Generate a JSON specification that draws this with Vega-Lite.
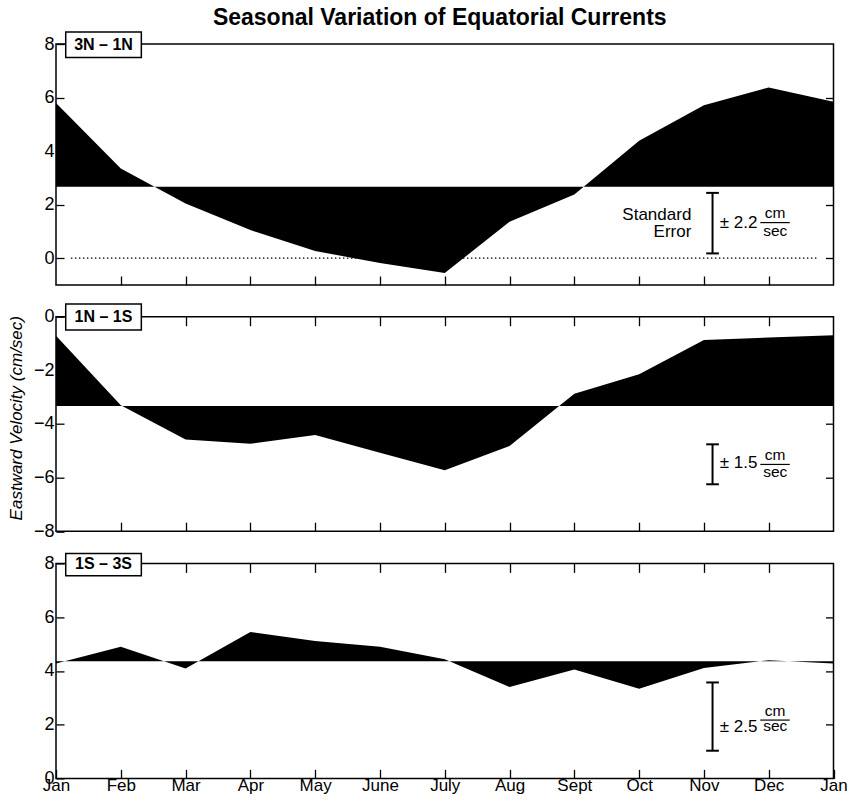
{
  "$schema": "https://vega.github.io/schema/vega-lite/v6.json",
  "background": "white",
  "padding": {"left": 6, "top": 7, "right": 4, "bottom": 4},
  "title": {"text": "Seasonal Variation of Equatorial Currents", "fontSize": 23, "fontWeight": "bold", "font": "Liberation Sans", "color": "black", "anchor": "middle", "frame": "group", "offset": 0, "dx": -5},
  "config": {
    "font": "Liberation Sans",
    "view": {"stroke": "black", "strokeWidth": 1.5},
    "axis": {"domain": false, "grid": false, "tickColor": "black", "tickWidth": 1.3, "labelFontSize": 18, "labelColor": "black", "labelFont": "Liberation Sans", "labelFlush": false, "labelOverlap": false, "labelBound": false, "titleColor": "black"},
    "text": {"font": "Liberation Sans", "color": "black"}
  },
  "datasets": {
    "p1": [
      {"m": 0, "v": 5.8}, {"m": 1, "v": 3.35}, {"m": 2, "v": 2.04}, {"m": 3, "v": 1.05}, {"m": 4, "v": 0.27}, {"m": 5, "v": -0.18}, {"m": 6, "v": -0.55}, {"m": 7, "v": 1.36}, {"m": 8, "v": 2.38}, {"m": 9, "v": 4.39}, {"m": 10, "v": 5.71}, {"m": 11, "v": 6.38}, {"m": 12, "v": 5.84}
    ],
    "p2": [
      {"m": 0, "v": -0.71}, {"m": 1, "v": -3.3}, {"m": 2, "v": -4.58}, {"m": 3, "v": -4.74}, {"m": 4, "v": -4.41}, {"m": 5, "v": -5.07}, {"m": 6, "v": -5.73}, {"m": 7, "v": -4.82}, {"m": 8, "v": -2.87}, {"m": 9, "v": -2.15}, {"m": 10, "v": -0.87}, {"m": 11, "v": -0.78}, {"m": 12, "v": -0.69}
    ],
    "p3": [
      {"m": 0, "v": 4.28}, {"m": 1, "v": 4.9}, {"m": 2, "v": 4.09}, {"m": 3, "v": 5.45}, {"m": 4, "v": 5.11}, {"m": 5, "v": 4.9}, {"m": 6, "v": 4.43}, {"m": 7, "v": 3.4}, {"m": 8, "v": 4.05}, {"m": 9, "v": 3.34}, {"m": 10, "v": 4.11}, {"m": 11, "v": 4.4}, {"m": 12, "v": 4.28}
    ],
    "one": [{"k": 1}]
  },
  "spacing": 31.7,
  "bounds": "flush",
  "vconcat": [
    {
      "width": 777.5, "height": 241,
      "data": {"name": "one"},
      "resolve": {"axis": {"x": "independent", "y": "independent"}},
      "layer": [
        {"data": {"name": "p1"}, "mark": {"type": "area", "color": "black", "interpolate": "linear"},
          "encoding": {
            "x": {"field": "m", "type": "quantitative", "scale": {"domain": [0, 12], "nice": false, "zero": false}, "axis": {"orient": "bottom", "values": [1,2,3,4,5,6,7,8,9,10,11], "labels": false, "tickSize": -9, "title": null}},
            "y": {"field": "v", "type": "quantitative", "scale": {"domain": [-1, 8], "nice": false, "zero": false}, "axis": {"orient": "left", "values": [0,2,4,6,8], "tickSize": -8, "labelPadding": 10, "title": null}},
            "y2": {"datum": 2.67}
          }},
        {"mark": {"type": "rule", "color": "black", "strokeWidth": 1.2, "strokeDash": [1.5, 2.5]},
          "encoding": {"x": {"datum": 0.23, "type": "quantitative", "axis": null}, "x2": {"datum": 11.74}, "y": {"datum": 0, "type": "quantitative", "axis": null}}},
        {"mark": {"type": "rule", "color": "black", "strokeWidth": 2},
          "encoding": {"x": {"datum": 10.133, "type": "quantitative", "axis": null}, "y": {"datum": 2.44, "type": "quantitative", "axis": {"orient": "right", "values": [0,2,4,6], "labels": false, "tickSize": -8, "title": null}}, "y2": {"datum": 0.18}}},
        {"mark": {"type": "rule", "color": "black", "strokeWidth": 2},
          "encoding": {"x": {"datum": 10.035, "type": "quantitative", "axis": null}, "x2": {"datum": 10.231}, "y": {"datum": 2.44, "type": "quantitative", "axis": null}}},
        {"mark": {"type": "rule", "color": "black", "strokeWidth": 2},
          "encoding": {"x": {"datum": 10.035, "type": "quantitative", "axis": null}, "x2": {"datum": 10.231}, "y": {"datum": 0.18, "type": "quantitative", "axis": null}}},
        {"mark": {"type": "text", "text": "Standard", "align": "right", "baseline": "alphabetic", "fontSize": 17},
          "encoding": {"x": {"datum": 9.806, "type": "quantitative", "axis": null}, "y": {"datum": 1.445, "type": "quantitative", "axis": null}}},
        {"mark": {"type": "text", "text": "Error", "align": "right", "baseline": "alphabetic", "fontSize": 17},
          "encoding": {"x": {"datum": 9.806, "type": "quantitative", "axis": null}, "y": {"datum": 0.795, "type": "quantitative", "axis": null}}},
        {"mark": {"type": "text", "text": "± 2.2", "align": "left", "baseline": "alphabetic", "fontSize": 17},
          "encoding": {"x": {"datum": 10.244, "type": "quantitative", "axis": null}, "y": {"datum": 1.11, "type": "quantitative", "axis": null}}},
        {"mark": {"type": "text", "text": "cm", "align": "center", "baseline": "alphabetic", "fontSize": 15.5},
          "encoding": {"x": {"datum": 11.1, "type": "quantitative", "axis": null}, "y": {"datum": 1.52, "type": "quantitative", "axis": null}}},
        {"mark": {"type": "rule", "color": "black", "strokeWidth": 1.2},
          "encoding": {"x": {"datum": 10.87, "type": "quantitative", "axis": null}, "x2": {"datum": 11.325}, "y": {"datum": 1.33, "type": "quantitative", "axis": null}}},
        {"mark": {"type": "text", "text": "sec", "align": "center", "baseline": "alphabetic", "fontSize": 15.5},
          "encoding": {"x": {"datum": 11.1, "type": "quantitative", "axis": null}, "y": {"datum": 0.84, "type": "quantitative", "axis": null}}},
        {"mark": {"type": "rect", "fill": "white", "stroke": "black", "strokeWidth": 1.5},
          "encoding": {"x": {"datum": 0.15, "type": "quantitative", "axis": null}, "x2": {"datum": 1.317}, "y": {"datum": 8.45, "type": "quantitative", "axis": null}, "y2": {"datum": 7.5}}},
        {"mark": {"type": "text", "text": "3N – 1N", "align": "center", "baseline": "middle", "fontSize": 16, "fontWeight": "bold"},
          "encoding": {"x": {"datum": 0.733, "type": "quantitative", "axis": null}, "y": {"datum": 7.97, "type": "quantitative", "axis": null}}}
      ]
    },
    {
      "width": 777.5, "height": 214.5,
      "data": {"name": "one"},
      "resolve": {"axis": {"x": "independent", "y": "independent"}},
      "layer": [
        {"data": {"name": "p2"}, "mark": {"type": "area", "color": "black", "interpolate": "linear"},
          "encoding": {
            "x": {"field": "m", "type": "quantitative", "scale": {"domain": [0, 12], "nice": false, "zero": false}, "axis": {"orient": "bottom", "values": [1,2,3,4,5,6,7,8,9,10,11], "labels": false, "tickSize": -9, "title": null}},
            "y": {"field": "v", "type": "quantitative", "scale": {"domain": [-8, 0], "nice": false, "zero": false}, "axis": {"orient": "left", "values": [0,-2,-4,-6,-8], "tickSize": -8, "labelPadding": 10, "title": "Eastward Velocity (cm/sec)", "titleFontStyle": "italic", "titleFontWeight": "normal", "titleFontSize": 17, "titlePadding": 8, "titleY": 101}},
            "y2": {"datum": -3.33}
          }},
        {"mark": {"type": "rule", "color": "black", "strokeWidth": 2},
          "encoding": {"x": {"datum": 10.133, "type": "quantitative", "axis": {"orient": "top", "values": [1,2,3,4,5,6,7,8,9,10,11], "labels": false, "tickSize": -9, "title": null}}, "y": {"datum": -4.76, "type": "quantitative", "axis": {"orient": "right", "values": [-2,-4,-6], "labels": false, "tickSize": -8, "title": null}}, "y2": {"datum": -6.25}}},
        {"mark": {"type": "rule", "color": "black", "strokeWidth": 2},
          "encoding": {"x": {"datum": 10.035, "type": "quantitative", "axis": null}, "x2": {"datum": 10.231}, "y": {"datum": -4.76, "type": "quantitative", "axis": null}}},
        {"mark": {"type": "rule", "color": "black", "strokeWidth": 2},
          "encoding": {"x": {"datum": 10.035, "type": "quantitative", "axis": null}, "x2": {"datum": 10.231}, "y": {"datum": -6.25, "type": "quantitative", "axis": null}}},
        {"mark": {"type": "text", "text": "± 1.5", "align": "left", "baseline": "alphabetic", "fontSize": 17},
          "encoding": {"x": {"datum": 10.244, "type": "quantitative", "axis": null}, "y": {"datum": -5.66, "type": "quantitative", "axis": null}}},
        {"mark": {"type": "text", "text": "cm", "align": "center", "baseline": "alphabetic", "fontSize": 15.5},
          "encoding": {"x": {"datum": 11.1, "type": "quantitative", "axis": null}, "y": {"datum": -5.34, "type": "quantitative", "axis": null}}},
        {"mark": {"type": "rule", "color": "black", "strokeWidth": 1.2},
          "encoding": {"x": {"datum": 10.87, "type": "quantitative", "axis": null}, "x2": {"datum": 11.325}, "y": {"datum": -5.51, "type": "quantitative", "axis": null}}},
        {"mark": {"type": "text", "text": "sec", "align": "center", "baseline": "alphabetic", "fontSize": 15.5},
          "encoding": {"x": {"datum": 11.1, "type": "quantitative", "axis": null}, "y": {"datum": -5.96, "type": "quantitative", "axis": null}}},
        {"mark": {"type": "rect", "fill": "white", "stroke": "black", "strokeWidth": 1.5},
          "encoding": {"x": {"datum": 0.15, "type": "quantitative", "axis": null}, "x2": {"datum": 1.317}, "y": {"datum": 0.475, "type": "quantitative", "axis": null}, "y2": {"datum": -0.497}}},
        {"mark": {"type": "text", "text": "1N – 1S", "align": "center", "baseline": "middle", "fontSize": 16, "fontWeight": "bold"},
          "encoding": {"x": {"datum": 0.733, "type": "quantitative", "axis": null}, "y": {"datum": -0.01, "type": "quantitative", "axis": null}}}
      ]
    },
    {
      "width": 777.5, "height": 215,
      "data": {"name": "one"},
      "resolve": {"axis": {"x": "independent", "y": "independent"}},
      "layer": [
        {"data": {"name": "p3"}, "mark": {"type": "area", "color": "black", "interpolate": "linear"},
          "encoding": {
            "x": {"field": "m", "type": "quantitative", "scale": {"domain": [0, 12], "nice": false, "zero": false}, "axis": {"orient": "bottom", "values": [0,1,2,3,4,5,6,7,8,9,10,11,12], "labelExpr": "['Jan','Feb','Mar','Apr','May','June','July','Aug','Sept','Oct','Nov','Dec','Jan'][datum.value]", "labelFontSize": 17, "labelPadding": 8, "tickSize": -9, "title": null}},
            "y": {"field": "v", "type": "quantitative", "scale": {"domain": [0, 8], "nice": false, "zero": false}, "axis": {"orient": "left", "values": [0,2,4,6,8], "tickSize": -8, "labelPadding": 10, "title": null}},
            "y2": {"datum": 4.36}
          }},
        {"mark": {"type": "rule", "color": "black", "strokeWidth": 2},
          "encoding": {"x": {"datum": 10.133, "type": "quantitative", "axis": {"orient": "top", "values": [1,2,3,4,5,6,7,8,9,10,11], "labels": false, "tickSize": -9, "title": null}}, "y": {"datum": 3.57, "type": "quantitative", "axis": {"orient": "right", "values": [2,4,6], "labels": false, "tickSize": -8, "title": null}}, "y2": {"datum": 1.03}}},
        {"mark": {"type": "rule", "color": "black", "strokeWidth": 2},
          "encoding": {"x": {"datum": 10.035, "type": "quantitative", "axis": null}, "x2": {"datum": 10.231}, "y": {"datum": 3.57, "type": "quantitative", "axis": null}}},
        {"mark": {"type": "rule", "color": "black", "strokeWidth": 2},
          "encoding": {"x": {"datum": 10.035, "type": "quantitative", "axis": null}, "x2": {"datum": 10.231}, "y": {"datum": 1.03, "type": "quantitative", "axis": null}}},
        {"mark": {"type": "text", "text": "± 2.5", "align": "left", "baseline": "alphabetic", "fontSize": 17},
          "encoding": {"x": {"datum": 10.244, "type": "quantitative", "axis": null}, "y": {"datum": 1.74, "type": "quantitative", "axis": null}}},
        {"mark": {"type": "text", "text": "cm", "align": "center", "baseline": "alphabetic", "fontSize": 15.5},
          "encoding": {"x": {"datum": 11.1, "type": "quantitative", "axis": null}, "y": {"datum": 2.33, "type": "quantitative", "axis": null}}},
        {"mark": {"type": "rule", "color": "black", "strokeWidth": 1.2},
          "encoding": {"x": {"datum": 10.87, "type": "quantitative", "axis": null}, "x2": {"datum": 11.325}, "y": {"datum": 2.17, "type": "quantitative", "axis": null}}},
        {"mark": {"type": "text", "text": "sec", "align": "center", "baseline": "alphabetic", "fontSize": 15.5},
          "encoding": {"x": {"datum": 11.1, "type": "quantitative", "axis": null}, "y": {"datum": 1.75, "type": "quantitative", "axis": null}}},
        {"mark": {"type": "rect", "fill": "white", "stroke": "black", "strokeWidth": 1.5},
          "encoding": {"x": {"datum": 0.15, "type": "quantitative", "axis": null}, "x2": {"datum": 1.317}, "y": {"datum": 8.372, "type": "quantitative", "axis": null}, "y2": {"datum": 7.54}}},
        {"mark": {"type": "text", "text": "1S – 3S", "align": "center", "baseline": "middle", "fontSize": 16, "fontWeight": "bold"},
          "encoding": {"x": {"datum": 0.733, "type": "quantitative", "axis": null}, "y": {"datum": 7.96, "type": "quantitative", "axis": null}}}
      ]
    }
  ]
}
